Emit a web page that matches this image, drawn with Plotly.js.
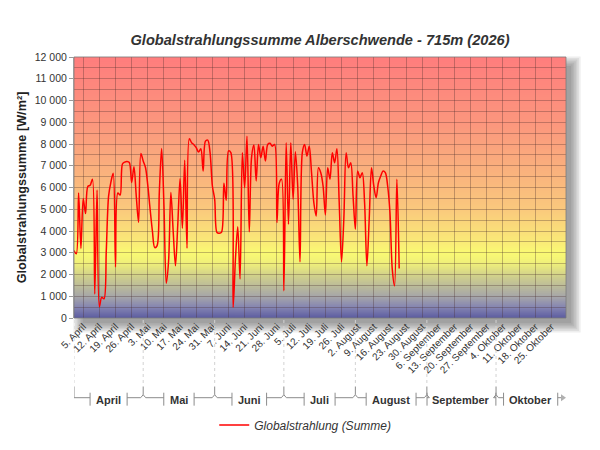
<!DOCTYPE html>
<html>
<head>
<meta charset="utf-8">
<script src="https://cdn.plot.ly/plotly-3.0.1.min.js"></script>
<style>
  html, body { margin:0; padding:0; background:#fff; }
  #chart { width:600px; height:450px; }
</style>
</head>
<body>
<div id="chart"></div>
<script>
/* ============================================================
   Globalstrahlungssumme Alberschwende - 715m (2026)
   daily sums from 1 April, gradient plot area, month brackets
   ============================================================ */

// ---- Data ----
const firstDay = '2026-04-01';
const dailySum = [
  3100, 2950, 5750, 3200, 5500, 4800, 6050, 6100, 6380, 1100,   // 1.-10. Apr
  5880,  520,  950,  880, 3100, 5600, 6250, 6650, 2350, 5750,   // 11.-20. Apr
  5650, 7080, 7170, 7200, 7150, 6230, 6950, 5600, 4400, 7560,   // 21.-30. Apr
  7220, 6920, 6100, 5000, 4000, 3240, 3320, 5800, 7790, 5200,   // 1.-10. Mai
  1600, 2600, 5770, 4000, 2400, 4300, 6410, 4130, 7250, 3210,   // 11.-20. Mai
  8240, 8060, 7970, 7830, 7630, 7780, 6760, 8130, 8180, 7600,   // 21.-30. Mai
  6070, 5460, 3930, 3900, 3950, 6190, 5410, 7680, 7600,  490,   // 31. Mai - 9. Jun
  2700, 4200, 1790, 7600, 5990, 8360, 3960, 7400, 7950, 6300,   // 10.-19. Jun
  7980, 7370, 7900, 7220, 7980, 8030, 7900, 7980, 4390, 6200,   // 20.-29. Jun
  6380, 1250, 8060, 4310, 8060, 5460, 7640, 6070, 2580, 7600,   // 30. Jun - 9. Jul
  7980, 7450, 7900, 6680, 5300, 4690, 6910, 6680, 6070, 4740,   // 10.-19. Jul
  6910, 6380, 7600, 7140, 7780, 5300, 2580, 4540, 7600, 6910,   // 20.-29. Jul
  7140, 5610, 4080, 6760, 6450, 6680, 5300, 2400, 4540, 6910,   // 30. Jul - 8. Aug
  6070, 5530, 6220, 6530, 6760, 6680, 6070, 4850, 2250, 1480,   // 9.-18. Aug
  6380, 2280                                                    // 19.-20. Aug
];

const tickDates = [
  '2026-04-05', '2026-04-12', '2026-04-19', '2026-04-26', '2026-05-03', '2026-05-10',
  '2026-05-17', '2026-05-24', '2026-05-31', '2026-06-07', '2026-06-14', '2026-06-21',
  '2026-06-28', '2026-07-05', '2026-07-12', '2026-07-19', '2026-07-26', '2026-08-02',
  '2026-08-09', '2026-08-16', '2026-08-23', '2026-08-30', '2026-09-06', '2026-09-13',
  '2026-09-20', '2026-09-27', '2026-10-04', '2026-10-11', '2026-10-18', '2026-10-25'
];
const tickLabels = [
  '5. April', '12. April', '19. April', '26. April', '3. Mai', '10. Mai',
  '17. Mai', '24. Mai', '31. Mai', '7. Juni', '14. Juni', '21. Juni',
  '28. Juni', '5. Juli', '12. Juli', '19. Juli', '26. Juli', '2. August',
  '9. August', '16. August', '23. August', '30. August', '6. September', '13. September',
  '20. September', '27. September', '4. Oktober', '11. Oktober', '18. Oktober', '25. Oktober'
];

const monthNames  = ['April', 'Mai', 'Juni', 'Juli', 'August', 'September', 'Oktober'];
const monthStarts = ['2026-04-01', '2026-05-01', '2026-06-01', '2026-07-01', '2026-08-01', '2026-09-01', '2026-10-01'];
const monthEnds   = ['2026-05-01', '2026-06-01', '2026-07-01', '2026-08-01', '2026-09-01', '2026-10-01', '2026-10-31'];

const xRange = ['2026-04-01', '2026-10-31 08:00'];
const yRange = [0, 12000];

// ---- Geometry / style ----
const M = { l: 74, r: 34, t: 57, b: 131 };
const W = 600, H = 450;
const plotW = W - M.l - M.r;
const plotH = H - M.t - M.b;
const plotBottom = H - M.b;
const FONT = 'Arial, "Liberation Sans", sans-serif';
const GRID = 'rgba(70,45,45,0.32)';
const BRACKET = '#8c8c8c';

// vertical colour ramp for the plot area (0 = top, 1 = bottom)
const rampStops = [
  [0.00, 'rgb(255,125,125)'],
  [0.25, 'rgb(252,150,125)'],
  [0.42, 'rgb(250,175,125)'],
  [0.58, 'rgb(250,200,125)'],
  [0.70, 'rgb(250,232,120)'],
  [0.75, 'rgb(250,250,115)'],
  [0.79, 'rgb(240,240,122)'],
  [0.84, 'rgb(208,208,140)'],
  [0.92, 'rgb(165,165,170)'],
  [0.96, 'rgb(132,132,178)'],
  [1.00, 'rgb(92,92,160)']
];

function rampImage() {
  const c = document.createElement('canvas');
  c.width = 4; c.height = plotH;
  const ctx = c.getContext('2d');
  const g = ctx.createLinearGradient(0, 0, 0, c.height);
  rampStops.forEach(([f, col]) => g.addColorStop(f, col));
  ctx.fillStyle = g;
  ctx.fillRect(0, 0, c.width, c.height);
  return c.toDataURL('image/png');
}

// ---- Helpers: pixel <-> axis ----
const msStart = Date.parse(xRange[0].replace(' ', 'T') + 'Z');
const msEnd   = Date.parse(xRange[1].replace(' ', 'T') + 'Z');
const msPerPx = (msEnd - msStart) / plotW;
const ms = s => Date.parse(s.replace(' ', 'T') + (s.length > 10 ? '' : 'T00:00') + 'Z');
const pad2 = n => String(n).padStart(2, '0');
function dstr(t) {
  const d = new Date(t);
  return `${d.getUTCFullYear()}-${pad2(d.getUTCMonth() + 1)}-${pad2(d.getUTCDate())} ` +
         `${pad2(d.getUTCHours())}:${pad2(d.getUTCMinutes())}:${pad2(d.getUTCSeconds())}`;
}
const py = pix => (plotBottom - pix) / plotH;   // pixel row -> paper y
const px = pix => (pix - M.l) / plotW;          // pixel col -> paper x

function textWidth(txt, font) {
  const ctx = document.createElement('canvas').getContext('2d');
  ctx.font = font;
  return ctx.measureText(txt).width;
}

// ---- Month brackets under the date axis ----
function monthBrackets() {
  const shapes = [], notes = [];
  const line = (x0, y0, x1, y1, extra) => shapes.push(Object.assign({
    type: 'line', xref: 'x', yref: 'paper',
    x0: dstr(x0), x1: dstr(x1), y0: py(y0), y1: py(y1),
    line: { color: BRACKET, width: 1 }
  }, extra || {}));

  const yLine = 399, yTop = 388, yTickA = 394, yTickB = 407;
  const notch = 2.5 * msPerPx;

  monthNames.forEach((name, i) => {
    const s = ms(monthStarts[i]);
    const e = ms(monthEnds[i]);
    const c = (s + e) / 2;
    const half = (textWidth(name, 'bold 11px Arial, "Liberation Sans"') / 2 + 6) * msPerPx;

    // light dashed guide from the axis down to the bracket
    line(s, plotBottom + 2, s, yTop, { line: { color: '#d2d2d2', width: 1, dash: 'dot' } });

    if (i === 0) {
      line(s, yTop, s, yLine);
    } else {
      line(s, yTop, s, yLine - 3);
      line(s - notch, yLine, s, yLine - 3);
      line(s, yLine - 3, s + notch, yLine);
    }
    line(i === 0 ? s : s + notch, yLine, c - half, yLine);
    line(c + half, yLine, i === monthNames.length - 1 ? e - 4 * msPerPx : e - notch, yLine);
    line(c - half, yTickA, c - half, yTickB);
    line(c + half, yTickA, c + half, yTickB);

    notes.push({
      xref: 'x', yref: 'paper', x: dstr(c), y: py(401),
      text: name, showarrow: false, xanchor: 'center', yanchor: 'middle',
      font: { family: FONT, size: 11, weight: 'bold', color: '#333' }
    });
  });

  // arrow head at the end of the time line
  const endPx = 566;
  shapes.push({
    type: 'path', xref: 'paper', yref: 'paper',
    path: `M ${px(endPx - 5)} ${py(yLine - 3.5)} L ${px(endPx)} ${py(yLine)} L ${px(endPx - 5)} ${py(yLine + 3.5)} Z`,
    fillcolor: '#b0b0b0', line: { width: 0 }
  });
  return { shapes, notes };
}

// ---- Drop shadow behind the plot area ----
function shadowShapes() {
  const out = [];
  for (let k = 0; k < 7; k++) {
    const g = k * 1.6;
    out.push({
      type: 'rect', xref: 'paper', yref: 'paper', layer: 'below',
      x0: px(M.l + 9 - g), x1: px(M.l + plotW + 5 + g),
      y0: py(plotBottom + 5 + g), y1: py(M.t + 9 - g),
      fillcolor: 'rgba(60,60,60,0.085)', line: { width: 0 }
    });
  }
  return out;
}

const brackets = monthBrackets();

const traces = [{
  type: 'scatter',
  mode: 'lines',
  name: 'Globalstrahlung (Summe)',
  x0: firstDay,
  dx: 86400000,
  y: dailySum,
  line: { color: '#ff0000', width: 1.5, shape: 'spline', smoothing: 0.9 },
  hovertemplate: '%{x|%d.%m.%Y}: %{y:,.0f} W/m²<extra></extra>'
}];

const layout = {
  width: W, height: H,
  margin: M,
  paper_bgcolor: '#ffffff',
  plot_bgcolor: 'rgba(0,0,0,0)',
  separators: ', ',
  font: { family: FONT, color: '#333', size: 11 },
  title: {
    text: 'Globalstrahlungssumme Alberschwende - 715m (2026)',
    font: { family: FONT, size: 14.6, weight: 'bold', style: 'italic', color: '#333' },
    xref: 'paper', x: 0.5, xanchor: 'center',
    yref: 'container', y: 1 - 40 / H, yanchor: 'middle'
  },
  xaxis: {
    type: 'date',
    range: xRange,
    tickmode: 'array',
    tickvals: tickDates,
    ticktext: tickLabels,
    tickangle: -45,
    tickfont: { family: FONT, size: 10, color: '#333' },
    ticks: '',
    showgrid: true, gridcolor: GRID, gridwidth: 1,
    showline: false, zeroline: false, fixedrange: true
  },
  yaxis: {
    range: yRange,
    tick0: 0, dtick: 1000,
    tickformat: ',d',
    exponentformat: 'none',
    separatethousands: true,
    tickfont: { family: FONT, size: 10.5, color: '#333' },
    ticks: 'outside', ticklen: 4, tickcolor: '#9a9a9a',
    showline: true, linecolor: '#b0b0b0', linewidth: 1,
    showgrid: true, gridcolor: GRID, gridwidth: 1,
    minor: { dtick: 500, showgrid: true, gridcolor: GRID, gridwidth: 1, ticks: '' },
    zeroline: false, fixedrange: true,
    title: {
      text: 'Globalstrahlungssumme [W/m²]',
      font: { family: FONT, size: 12.7, weight: 'bold', color: '#222' },
      standoff: 5
    }
  },
  showlegend: true,
  legend: {
    orientation: 'h',
    x: 0.47, xanchor: 'center',
    y: py(425), yanchor: 'middle',
    bgcolor: 'rgba(0,0,0,0)',
    font: { family: FONT, size: 12, style: 'italic', color: '#333' }
  },
  images: [{
    source: rampImage(),
    xref: 'x domain', yref: 'y domain',
    x: 0, y: 1, sizex: 1, sizey: 1,
    xanchor: 'left', yanchor: 'top',
    sizing: 'stretch', layer: 'below'
  }],
  shapes: [
    ...shadowShapes(),
    {
      type: 'rect', xref: 'x domain', yref: 'y domain', layer: 'above',
      x0: 0, x1: 1, y0: 0, y1: 1,
      line: { color: 'rgba(120,120,120,0.75)', width: 1 },
      fillcolor: 'rgba(0,0,0,0)'
    },
    ...brackets.shapes
  ],
  annotations: brackets.notes
};

Plotly.newPlot('chart', traces, layout, { displayModeBar: false, responsive: false });
</script>
</body>
</html>
